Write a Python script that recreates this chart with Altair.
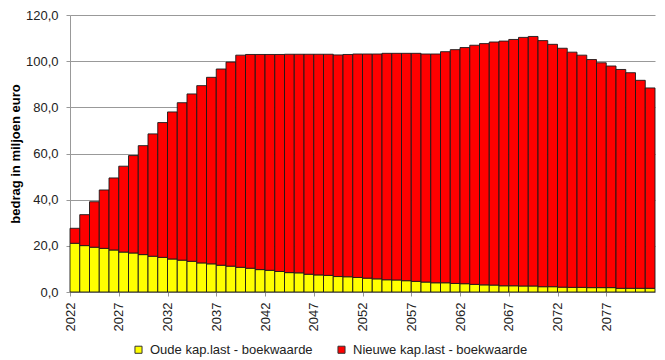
import altair as alt
import pandas as pd

years = list(range(2022, 2082))
oude = [21.1, 20.1, 19.4, 18.9, 18.2, 17.3, 16.9, 16.2, 15.5, 15.0,
        14.3, 13.8, 13.3, 12.6, 12.2, 11.6, 11.2, 10.7, 10.3, 9.7,
        9.4, 8.9, 8.4, 8.3, 7.7, 7.4, 7.2, 6.7, 6.6, 6.3,
        6.0, 5.7, 5.3, 5.2, 4.9, 4.6, 4.3, 4.0, 4.0, 3.7,
        3.6, 3.3, 3.1, 3.0, 2.7, 2.7, 2.6, 2.6, 2.3, 2.3,
        2.1, 2.0, 2.0, 1.9, 1.9, 1.9, 1.6, 1.6, 1.6, 1.6]
nieuwe = [6.5, 13.4, 19.7, 25.3, 31.2, 37.2, 42.2, 47.2, 53.0, 58.4,
          63.7, 68.2, 72.5, 76.8, 80.8, 85.0, 88.4, 91.9, 92.6, 93.2,
          93.5, 94.0, 94.6, 94.7, 95.3, 95.6, 95.8, 96.0, 96.3, 96.8,
          97.1, 97.4, 98.1, 98.2, 98.5, 98.8, 98.8, 99.1, 100.1, 101.3,
          102.3, 103.6, 104.5, 105.3, 106.0, 106.7, 107.7, 108.1, 106.6, 105.0,
          103.5, 101.9, 100.6, 98.8, 97.4, 96.0, 94.8, 93.4, 90.1, 86.8]
series = ["Oude kap.last - boekwaarde", "Nieuwe kap.last - boekwaarde"]
colors = ["#FFFF00", "#FF0000"]
x_ticks = list(range(2022, 2082, 5))

rows = []
for i, y in enumerate(years):
    rows.append({"year": y, "series": series[0], "ord": 0, "value": oude[i]})
    rows.append({"year": y, "series": series[1], "ord": 1, "value": nieuwe[i]})
df = pd.DataFrame(rows)

font = "Arial"
fs = 13

chart = alt.Chart(df).transform_calculate(
    year_end="datum.year + 1"
).transform_stack(
    stack="value", groupby=["year"], as_=["y0", "y1"],
    sort=[alt.SortField("ord", order="ascending")]
).mark_bar(stroke="#1a1a1a", strokeWidth=0.9).encode(
    x=alt.X("year:Q",
            scale=alt.Scale(domain=[2022, 2082], nice=False, zero=False),
            axis=alt.Axis(values=x_ticks, format="d", labelAngle=-90, title=None,
                          grid=False, domainColor="#999999", tickColor="#999999",
                          tickSize=4, labelFont=font, labelFontSize=fs,
                          labelColor="#222222", labelAlign="right",
                          labelBaseline="middle", labelPadding=6)),
    x2="year_end:Q",
    y=alt.Y("y0:Q",
            scale=alt.Scale(domain=[0, 120], nice=False),
            axis=alt.Axis(values=[0, 20, 40, 60, 80, 100, 120],
                          labelExpr="replace(format(datum.value, '.1f'), '.', ',')",
                          title="bedrag in miljoen euro", titleFont=font,
                          titleFontSize=fs, titleFontWeight="bold",
                          titleColor="#000000", titlePadding=3,
                          labelFont=font, labelFontSize=fs, labelColor="#222222",
                          labelPadding=8,
                          gridColor="#999999", gridWidth=1,
                          domainColor="#999999", tickColor="#999999", tickSize=4)),
    y2="y1:Q",
    color=alt.Color("series:N",
                    scale=alt.Scale(domain=series, range=colors),
                    legend=alt.Legend(title=None, orient="none", direction="horizontal",
                                      legendX=62, legendY=328,
                                      symbolType="square", symbolSize=50,
                                      symbolStrokeColor="#333333", symbolStrokeWidth=1,
                                      labelFont=font, labelFontSize=fs, labelLimit=0,
                                      labelOffset=5,
                                      labelColor="#222222", columnPadding=22)),
).properties(
    width=585, height=277,
    autosize=alt.AutoSizeParams(type="none"),
    padding={"left": 62, "top": 7, "right": 2, "bottom": 68},
).configure_view(stroke=None)

chart.save("out.html", embed_options={"renderer": "svg", "actions": False})
